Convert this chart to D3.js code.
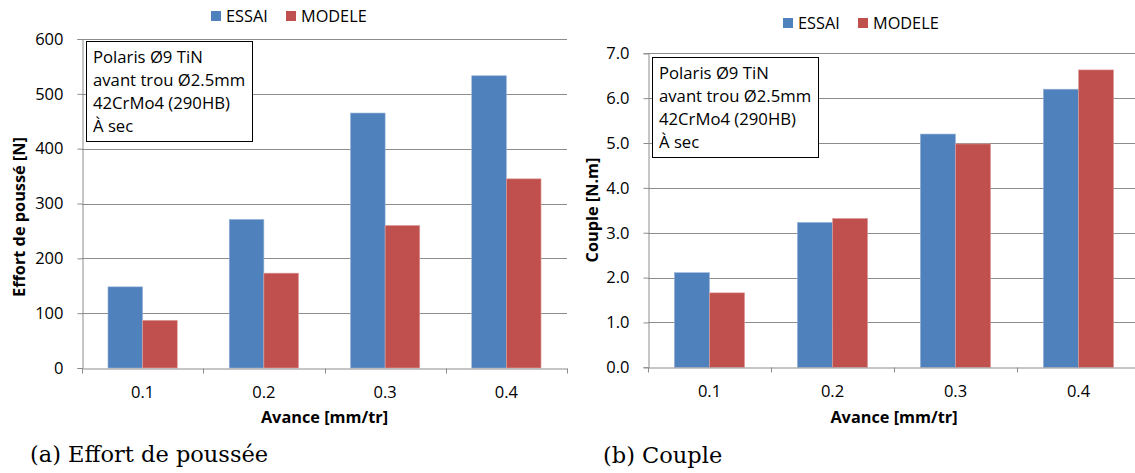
<!DOCTYPE html>
<html><head><meta charset="utf-8">
<script src="https://cdn.jsdelivr.net/npm/d3@7"></script>
<style>body{margin:0;background:#fff}svg{display:block}</style>
</head><body>
<svg id="c" width="1135" height="473"></svg>
<script>
const categories = ["0.1","0.2","0.3","0.4"];
const series = ["ESSAI","MODELE"];
const effortEssai = [148, 271, 465, 533];
const effortModele = [87, 173, 260, 345];
const coupleEssai = [2.11, 3.23, 5.20, 6.20];
const coupleModele = [1.66, 3.32, 4.98, 6.63];
const effortTicks = [0,100,200,300,400,500,600];
const coupleTicks = [0,1,2,3,4,5,6,7];
const annotation = ["Polaris Ø9 TiN","avant trou Ø2.5mm","42CrMo4 (290HB)","À sec"];
const colors = ["#4F81BD","#C0504D"];

const svg = d3.select("#c");
const FONT = "'Open Sans', sans-serif";

function chart(cfg){
  const g = svg.append("g");
  const x = d3.scaleBand().domain(categories).range([cfg.x0, cfg.x1]).paddingInner(0).paddingOuter(0);
  const xs = d3.scaleBand().domain(series).range([0, x.bandwidth()]).paddingInner(0).paddingOuter(0.75);
  const y = d3.scaleLinear().domain([0, cfg.max]).range([cfg.y0, cfg.y1]);
  // gridlines
  g.selectAll("line.grid").data(cfg.ticks.slice(1)).join("line")
    .attr("x1", cfg.x0).attr("x2", cfg.x1)
    .attr("y1", d=>Math.round(y(d))+0.5).attr("y2", d=>Math.round(y(d))+0.5)
    .attr("stroke","#8c8c8c").attr("stroke-width",1);
  // bars
  const data = categories.map((c,i)=>({c, v:[cfg.a[i], cfg.b[i]]}));
  const grp = g.selectAll("g.cat").data(data).join("g").attr("transform", d=>`translate(${x(d.c)},0)`);
  grp.selectAll("rect").data(d=>d.v.map((v,j)=>({s:series[j], v, j}))).join("rect")
    .attr("x", d=>xs(d.s)).attr("width", xs.bandwidth())
    .attr("y", d=>y(d.v)).attr("height", d=>y(0)-y(d.v))
    .attr("fill", d=>colors[d.j])
    .attr("stroke", d=> d.j===0 ? "#9db5d8" : "#e0a3a1").attr("stroke-width",0.6);
  // y axis
  const ya = d3.axisLeft(y).tickValues(cfg.ticks).tickSize(5).tickPadding(14).tickFormat(cfg.fmt);
  const yg = g.append("g").attr("transform", `translate(${cfg.x0+0.5},0)`).call(ya);
  yg.select(".domain").attr("stroke","#8c8c8c");
  yg.selectAll(".tick line").attr("stroke","#8c8c8c");
  yg.selectAll(".tick text").attr("font-family",FONT).attr("font-size",16.5).attr("fill","#000");
  // x axis
  const xa = d3.axisBottom(x).tickSize(0).tickPadding(18);
  const xg = g.append("g").attr("transform", `translate(0,${Math.round(cfg.y0)+0.5})`).call(xa);
  xg.select(".domain").attr("stroke","#8c8c8c");
  xg.selectAll(".tick text").attr("font-family",FONT).attr("font-size",16.5).attr("fill","#000");
  const bounds = categories.map(c=>x(c)).concat([cfg.x1]);
  xg.selectAll("line.sep").data(bounds).join("line")
    .attr("x1", d=>Math.round(d)+0.5).attr("x2", d=>Math.round(d)+0.5)
    .attr("y1",0).attr("y2",5).attr("stroke","#8c8c8c");
  // axis titles
  g.append("text").attr("x",(cfg.x0+cfg.x1)/2).attr("y",cfg.xtY).attr("text-anchor","middle")
    .attr("font-family",FONT).attr("font-weight","bold").attr("font-size",16.3).text("Avance [mm/tr]");
  g.append("text").attr("transform",`translate(${cfg.ytX},${cfg.ytY}) rotate(-90)`).attr("text-anchor","middle")
    .attr("dominant-baseline","central")
    .attr("font-family",FONT).attr("font-weight","bold").attr("font-size",16.3).text(cfg.ytitle);
  // legend
  const lg = g.append("g").attr("transform",`translate(${cfg.lx},${cfg.ly})`);
  const lx = [0, 75];
  series.forEach((s,i)=>{
    lg.append("rect").attr("x",lx[i]).attr("y",-5).attr("width",10).attr("height",10).attr("fill",colors[i]);
    lg.append("text").attr("x",lx[i]+15).attr("y",0).attr("dominant-baseline","central")
      .attr("font-family",FONT).attr("font-size",16.3).text(s);
  });
  // annotation box
  g.append("rect").attr("x",cfg.bx+0.5).attr("y",cfg.by+0.5).attr("width",166).attr("height",100)
    .attr("fill","#fff").attr("stroke","#000").attr("stroke-width",1);
  g.append("g").selectAll("text").data(annotation).join("text")
    .attr("x",cfg.bx+7).attr("y",(d,i)=>cfg.by+22+i*23)
    .attr("font-family",FONT).attr("font-size",16.7).text(d=>d);
  // caption
  svg.append("text").attr("x",cfg.capX).attr("y",cfg.capY)
    .attr("font-family","'DejaVu Serif', serif").attr("font-size",22.5).text(cfg.caption);
}

chart({x0:82, x1:567, y0:368, y1:39, max:600, ticks:effortTicks, fmt:d3.format("d"),
  a:effortEssai, b:effortModele, ytitle:"Effort de poussé [N]", ytX:19, ytY:217, xtY:423,
  lx:211, ly:16, bx:86, by:41, capX:30, capY:462, caption:"(a) Effort de poussée"});
chart({x0:648, x1:1140, y0:367.3, y1:53.3, max:7, ticks:coupleTicks, fmt:d3.format(".1f"),
  a:coupleEssai, b:coupleModele, ytitle:"Couple [N.m]", ytX:592, ytY:210, xtY:423,
  lx:783, ly:23, bx:652, by:57, capX:603, capY:463, caption:"(b) Couple"});
</script>
</body></html>
